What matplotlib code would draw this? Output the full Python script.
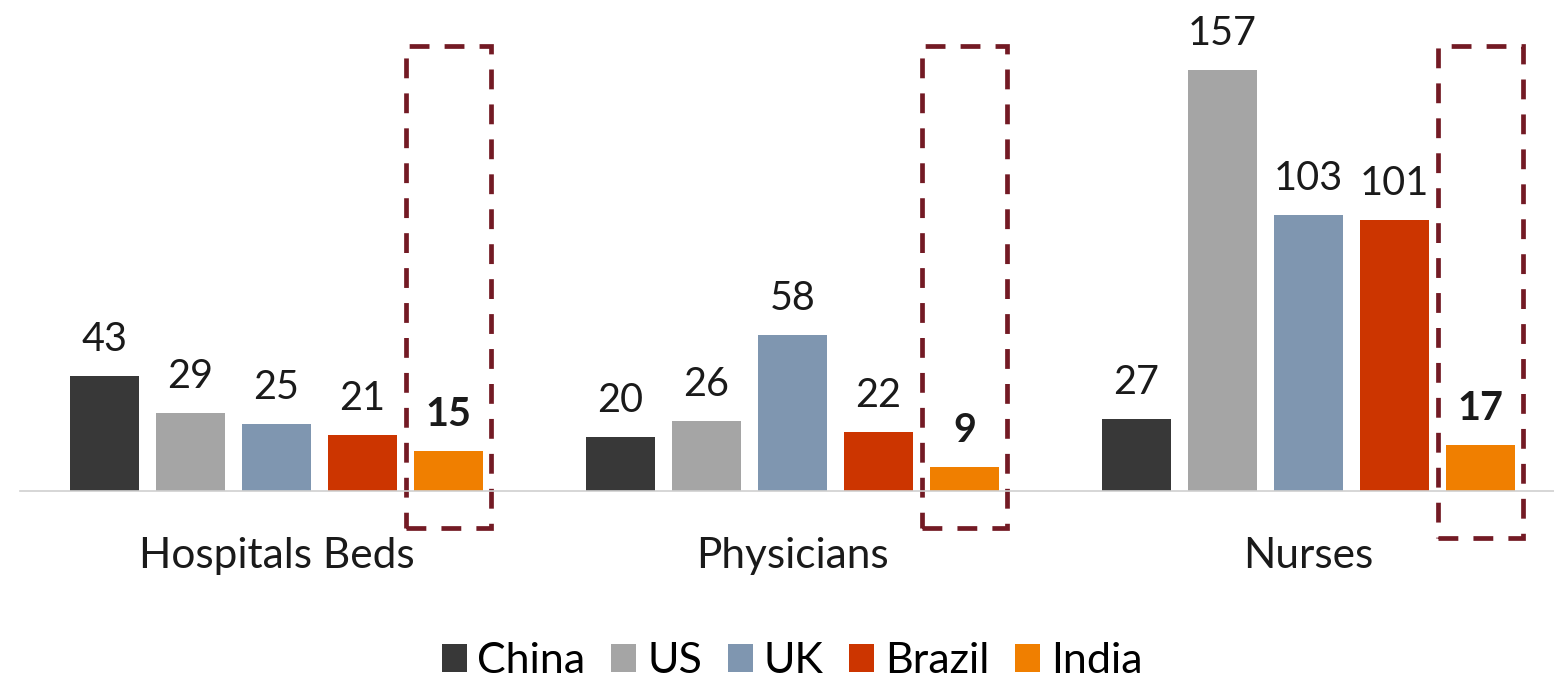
import matplotlib.pyplot as plt
from matplotlib.patches import Rectangle
import numpy as np

plt.rcParams['font.family'] = ['Lato', 'DejaVu Sans']

# data
groups = ['Hospitals Beds', 'Physicians', 'Nurses']
countries = ['China', 'US', 'UK', 'Brazil', 'India']
china = [43, 20, 27]
us = [29, 26, 157]
uk = [25, 58, 103]
brazil = [21, 22, 101]
india = [15, 9, 17]

colors = ['#383838', '#a5a5a5', '#7f96b0', '#cc3500', '#f07f00']
series = [china, us, uk, brazil, india]

fig = plt.figure(figsize=(15.54, 6.83), dpi=100)
px = 2.682  # pixels per unit
ax = fig.add_axes([20 / 1554, 192 / 683, 1534 / 1554, 170 * px / 683])

step = 6
for i, (name, vals) in enumerate(zip(countries, series)):
    x = np.arange(len(groups)) * step + i
    ax.bar(x, vals, width=0.8, color=colors[i], label=name)
    for xx, v in zip(x, vals):
        ax.annotate(str(v), (xx, v), xytext=(0, 13), textcoords='offset points',
                    ha='center', va='bottom', fontsize=28.5, color='#1a1a1a',
                    fontweight='bold' if name == 'India' else 'normal')

# dashed boxes around India
box_bottoms = [-13.8, -13.8, -17.5]
for g in range(len(groups)):
    xc = g * step + 4
    rect = Rectangle((xc - 0.49, box_bottoms[g]), 0.98, 166 - box_bottoms[g],
                     fill=False, edgecolor='#731a24', lw=3.4,
                     linestyle=(0, (4.2, 3.2)), clip_on=False)
    ax.add_patch(rect)

ax.set_xlim((20 - 104.5) / 86, (1554 - 104.5) / 86)
ax.set_ylim(0, 170)
ax.set_xticks(np.arange(len(groups)) * step + 2)
ax.set_xticklabels(groups, fontsize=30.5, color='#1a1a1a')
ax.tick_params(axis='x', length=0, pad=33)
ax.set_yticks([])
for s in ['top', 'right', 'left']:
    ax.spines[s].set_visible(False)
ax.spines['bottom'].set_color('#d0d0d0')
ax.spines['bottom'].set_linewidth(1.2)

fig.legend(loc='center', bbox_to_anchor=(792 / 1554, 1 - 661 / 683), ncol=5,
           frameon=False, fontsize=31, handlelength=0.58, handleheight=0.62,
           handletextpad=0.25, columnspacing=0.6, borderaxespad=0)

fig.savefig('out.png', dpi=100)
